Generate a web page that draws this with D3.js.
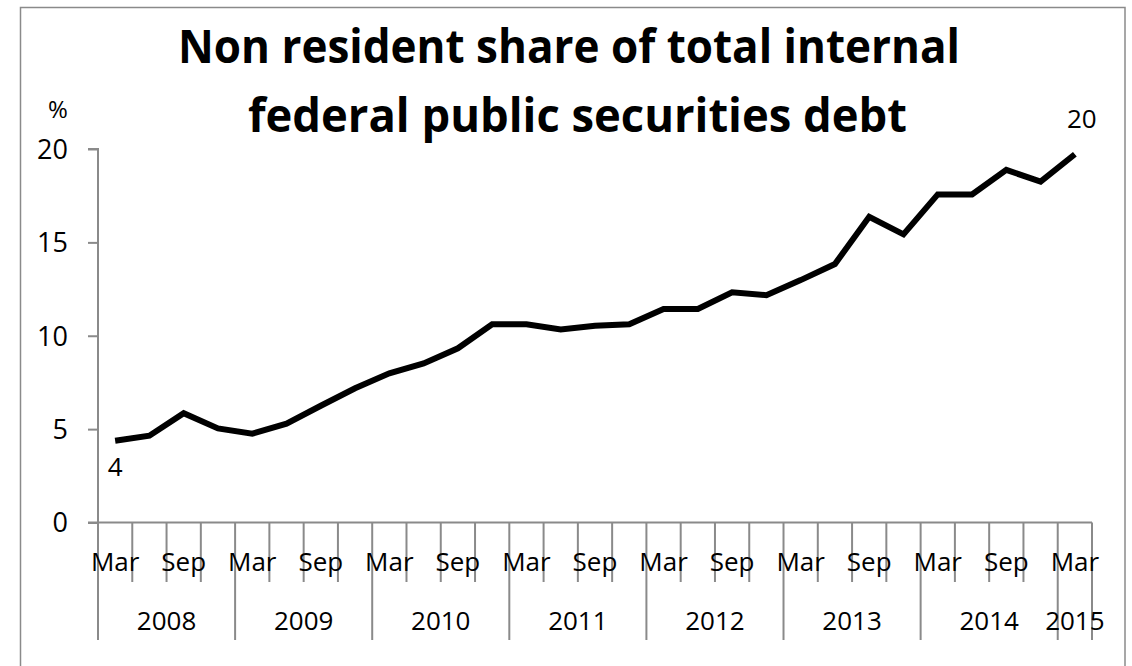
<!DOCTYPE html>
<html>
<head>
<meta charset="utf-8">
<script src="https://cdn.jsdelivr.net/npm/d3@7"></script>
<style>
  html, body { margin: 0; padding: 0; background: #fff; }
  svg { display: block; }
  text { font-family: "Open Sans", "Liberation Sans", sans-serif; fill: #000; }
</style>
</head>
<body>
<svg id="chart" width="1132" height="666"></svg>
<script>
// ---- data ----
const titleLines = ["Non resident share of total internal", "federal public securities debt"];
const unitLabel = "%";
const months = ["Mar","Jun","Sep","Dec","Mar","Jun","Sep","Dec","Mar","Jun","Sep","Dec",
                "Mar","Jun","Sep","Dec","Mar","Jun","Sep","Dec","Mar","Jun","Sep","Dec",
                "Mar","Jun","Sep","Dec","Mar"];
const years = ["2008","2009","2010","2011","2012","2013","2014","2015"];
const quartersPerYear = [4,4,4,4,4,4,4,1];
const values = [4.38,4.65,5.85,5.04,4.76,5.29,6.25,7.19,7.99,8.52,9.33,10.61,
                10.61,10.34,10.54,10.61,11.43,11.43,12.33,12.17,12.98,13.84,16.37,15.43,
                17.57,17.57,18.88,18.25,19.72];
const yTicks = [0,5,10,15,20];
const firstLabel = "4";
const lastLabel = "20";

// ---- layout ----
const svg = d3.select("#chart");
const plotLeft = 98, plotRight = 1092, plotTop = 149, plotBottom = 522.5;
const axisColor = "#8a8a8a";

svg.append("rect")
  .attr("x", 20.5).attr("y", 7.5).attr("width", 1104.5).attr("height", 680)
  .attr("fill", "none").attr("stroke", axisColor).attr("stroke-width", 1.5);

const idx = d3.range(values.length);
const x = d3.scaleBand().domain(idx).range([plotLeft, plotRight]).padding(0);
const y = d3.scaleLinear().domain([0, 20]).range([plotBottom, plotTop]);

// title
svg.append("text").text(titleLines[0])
  .attr("x", 178).attr("y", 63)
  .attr("font-size", 46).attr("font-weight", "bold")
  .attr("textLength", 782).attr("lengthAdjust", "spacingAndGlyphs");
svg.append("text").text(titleLines[1])
  .attr("x", 248).attr("y", 132)
  .attr("font-size", 46).attr("font-weight", "bold")
  .attr("textLength", 659).attr("lengthAdjust", "spacingAndGlyphs");

// y axis
const yAxis = d3.axisLeft(y).tickValues(yTicks).tickSize(10).tickPadding(20).tickFormat(d3.format("d"));
const gy = svg.append("g").attr("transform", `translate(${plotLeft},0)`).call(yAxis);
gy.select(".domain").attr("stroke", axisColor).attr("stroke-width", 2).attr("d", `M-10,${plotTop}H0V${plotBottom}`);
gy.selectAll(".tick line").attr("stroke", axisColor).attr("stroke-width", 2);
gy.selectAll(".tick text").attr("font-size", 27).attr("font-family", "Open Sans").attr("fill", "#000").attr("dy", "0.35em");

svg.append("text").text(unitLabel)
  .attr("x", 58).attr("y", 118).attr("text-anchor", "middle").attr("font-size", 24);

// x axis baseline
svg.append("line")
  .attr("x1", plotLeft - 10).attr("x2", plotRight).attr("y1", plotBottom).attr("y2", plotBottom)
  .attr("stroke", axisColor).attr("stroke-width", 2);

// year boundaries
const yearStarts = [];
let acc = 0;
quartersPerYear.forEach(q => { yearStarts.push(acc); acc += q; });
const yearBoundaryIdx = new Set(yearStarts);

// category ticks
const boundaries = d3.range(values.length + 1);
const bx = d => d < values.length ? x(d) : x(values.length - 1) + x.bandwidth();
svg.append("g").selectAll("line").data(boundaries).join("line")
  .attr("x1", bx).attr("x2", bx)
  .attr("y1", plotBottom)
  .attr("y2", d => (yearBoundaryIdx.has(d) || d === values.length) ? 640 : 582)
  .attr("stroke", axisColor).attr("stroke-width", 2);

// month labels (every other category)
svg.append("g").selectAll("text").data(idx.filter(i => i % 2 === 0)).join("text")
  .attr("x", i => x(i) + x.bandwidth() / 2)
  .attr("y", 571)
  .attr("text-anchor", "middle").attr("font-size", 26)
  .text(i => months[i]);

// year labels
svg.append("g").selectAll("text").data(years).join("text")
  .attr("x", (d, k) => x(yearStarts[k]) + x.bandwidth() * quartersPerYear[k] / 2)
  .attr("y", 630)
  .attr("text-anchor", "middle").attr("font-size", 26)
  .text(d => d);

// line
const line = d3.line().x(i => x(i) + x.bandwidth() / 2).y(i => y(values[i]));
svg.append("path").datum(idx).attr("d", line)
  .attr("fill", "none").attr("stroke", "#000").attr("stroke-width", 6)
  .attr("stroke-linejoin", "miter").attr("stroke-linecap", "butt");

// data labels
const n = values.length - 1;
svg.append("text").text(firstLabel)
  .attr("x", x(0) + x.bandwidth() / 2).attr("y", y(values[0]) + 35)
  .attr("text-anchor", "middle").attr("font-size", 26);
svg.append("text").text(lastLabel)
  .attr("x", x(n) + x.bandwidth() / 2 + 7).attr("y", y(values[n]) - 26)
  .attr("text-anchor", "middle").attr("font-size", 26);
</script>
</body>
</html>
